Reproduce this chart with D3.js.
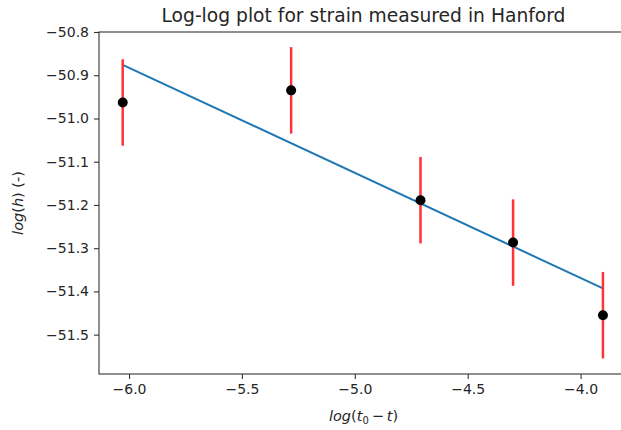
<!DOCTYPE html>
<html>
<head>
<meta charset="utf-8">
<script src="https://cdn.jsdelivr.net/npm/d3@7"></script>
<style>
  body { margin: 0; background: #fff; }
  text { font-family: "DejaVu Sans", sans-serif; fill: #262626; }
</style>
</head>
<body>
<svg id="chart" width="621" height="430"></svg>
<script>
// measured points (log-log)
const logT = [-6.028, -5.282, -4.709, -4.299, -3.901];
const logH = [-50.963, -50.935, -51.189, -51.287, -51.455];
const errH = [0.1, 0.1, 0.1, 0.1, 0.1];

// fitted line, end points
const fitX = [-6.028, -3.901];
const fitY = [-50.876, -51.393];

const xTicks = [-6.0, -5.5, -5.0, -4.5, -4.0];
const yTicks = [-50.8, -50.9, -51.0, -51.1, -51.2, -51.3, -51.4, -51.5];

const margin = { left: 99, top: 32, right: 628, bottom: 374 };

let svg = d3.select('#chart');

let x = d3.scaleLinear().domain([-6.133, -3.79]).range([margin.left, margin.right]);
let y = d3.scaleLinear().domain([-51.591, -50.8]).range([margin.bottom, margin.top]);

const fmt = (d) => d3.format('.1f')(d).replace('-', '\u2212');

// axes
let xAxis = svg.append('g')
  .attr('transform', `translate(0,${margin.bottom})`)
  .call(d3.axisBottom(x).tickValues(xTicks).tickFormat(fmt).tickSizeOuter(0).tickSize(5).tickPadding(5));

let yAxis = svg.append('g')
  .attr('transform', `translate(${margin.left},0)`)
  .call(d3.axisLeft(y).tickValues(yTicks).tickFormat(fmt).tickSizeOuter(0).tickSize(5).tickPadding(5));

svg.selectAll('.tick text').style('font-size', '14px').attr('fill', '#262626');
svg.selectAll('.tick line').attr('stroke', '#333').attr('stroke-width', 1.1);
svg.selectAll('.domain').remove();

// spines
svg.append('rect')
  .attr('x', margin.left)
  .attr('y', margin.top)
  .attr('width', margin.right - margin.left)
  .attr('height', margin.bottom - margin.top)
  .attr('fill', 'none')
  .attr('stroke', '#333')
  .attr('stroke-width', 1.1);

// fit line
svg.append('path')
  .datum(d3.zip(fitX, fitY))
  .attr('d', d3.line().x((d) => x(d[0])).y((d) => y(d[1])))
  .attr('fill', 'none')
  .attr('stroke', '#1f77b4')
  .attr('stroke-width', 2);

let pts = d3.zip(logT, logH, errH);

// error bars
svg.selectAll('line.err')
  .data(pts)
  .join('line')
  .attr('class', 'err')
  .attr('x1', (d) => x(d[0]))
  .attr('x2', (d) => x(d[0]))
  .attr('y1', (d) => y(d[1] + d[2]))
  .attr('y2', (d) => y(d[1] - d[2]))
  .attr('stroke', '#ff3333')
  .attr('stroke-width', 2.5);

// points
svg.selectAll('circle')
  .data(pts)
  .join('circle')
  .attr('cx', (d) => x(d[0]))
  .attr('cy', (d) => y(d[1]))
  .attr('r', 5)
  .attr('fill', 'black');

// title
svg.append('text')
  .attr('x', (margin.left + margin.right) / 2)
  .attr('y', 22)
  .attr('text-anchor', 'middle')
  .style('font-size', '18.7px')
  .text('Log-log plot for strain measured in Hanford');

// x label
let xl = svg.append('text')
  .attr('x', (margin.left + margin.right) / 2)
  .attr('y', 421)
  .attr('text-anchor', 'middle')
  .style('font-size', '14.5px');
xl.append('tspan').style('font-style', 'italic').text('log');
xl.append('tspan').text('(');
xl.append('tspan').style('font-style', 'italic').text('t');
xl.append('tspan').style('font-size', '10px').attr('dy', 3).text('0');
xl.append('tspan').attr('dy', -3).text('\u2009\u2212\u2009');
xl.append('tspan').style('font-style', 'italic').text('t');
xl.append('tspan').text(')');

// y label
let yl = svg.append('text')
  .attr('transform', `translate(23,${(margin.top + margin.bottom) / 2}) rotate(-90)`)
  .attr('text-anchor', 'middle')
  .style('font-size', '14.5px');
yl.append('tspan').style('font-style', 'italic').text('log');
yl.append('tspan').text('(');
yl.append('tspan').style('font-style', 'italic').text('h');
yl.append('tspan').text(') (-)');
</script>
</body>
</html>
